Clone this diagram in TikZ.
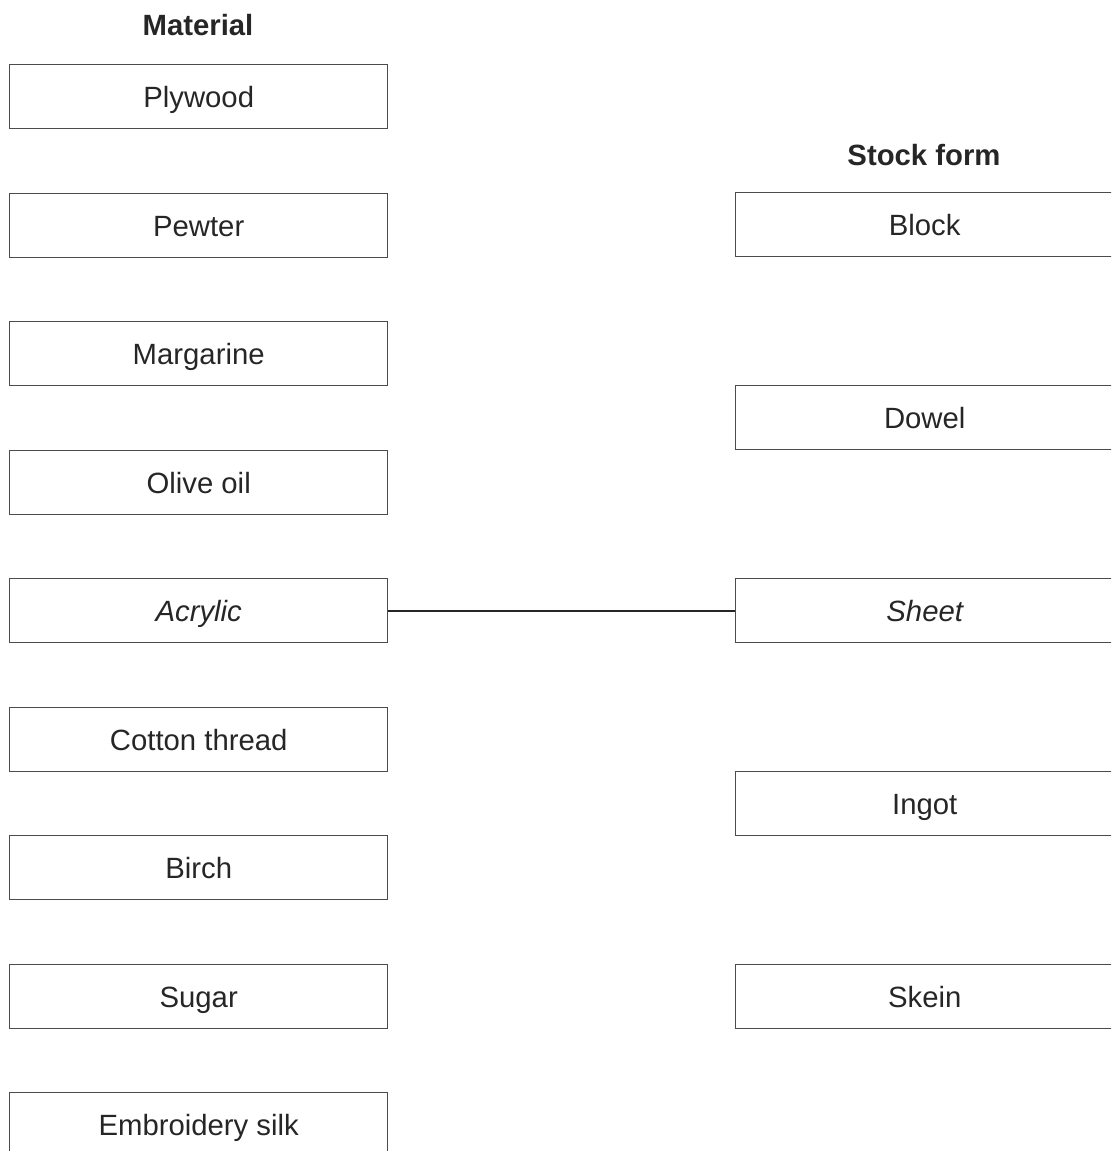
\documentclass[tikz,border=0pt]{standalone}
\usepackage{fontspec}
\setmainfont{Liberation Sans}
\begin{document}
\begin{tikzpicture}[x=1pt,y=-1pt,
  box/.style={draw=black!70,line width=1.4pt,minimum width=378pt,minimum height=64pt,inner sep=0pt,text height=22pt,text depth=0pt,anchor=north west,font=\fontsize{29.3}{33}\selectfont,text=black!85},
  head/.style={font=\fontsize{29.3}{33}\selectfont\bfseries,text=black!85,inner sep=0pt,text height=20pt,text depth=0pt},
  link/.style={draw=black!85,line width=2.4pt}]
\useasboundingbox (0,0) rectangle (1111,1151);
\clip (0,0) rectangle (1111,1151);
\node[head] (hmat) at (198,25) {Material};
\node[head] (hstock) at (924,155) {Stock form};
\node[box] (plywood) at (9,64) {Plywood};
\node[box] (pewter) at (9,193) {Pewter};
\node[box] (margarine) at (9,321) {Margarine};
\node[box] (olive) at (9,450) {Olive oil};
\node[box] (acrylic) at (9,578) {\itshape Acrylic};
\node[box] (cotton) at (9,707) {Cotton thread};
\node[box] (birch) at (9,835) {Birch};
\node[box] (sugar) at (9,964) {Sugar};
\node[box] (embroidery) at (9,1092) {Embroidery silk};
\node[box] (block) at (735,192) {Block};
\node[box] (dowel) at (735,385) {Dowel};
\node[box] (sheet) at (735,578) {\itshape Sheet};
\node[box] (ingot) at (735,771) {Ingot};
\node[box] (skein) at (735,964) {Skein};
\draw[link] (acrylic.east) -- (sheet.west);
\end{tikzpicture}
\end{document}
